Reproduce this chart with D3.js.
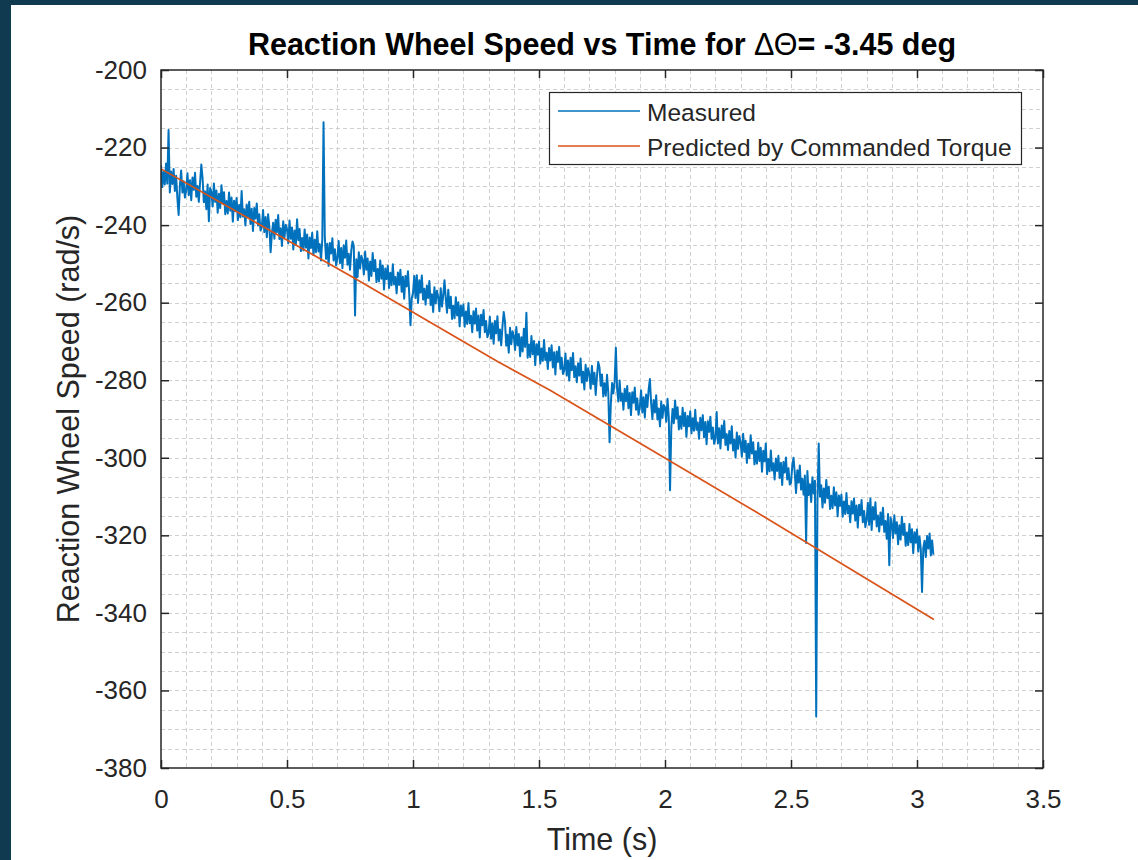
<!DOCTYPE html>
<html><head><meta charset="utf-8">
<script src="https://cdn.jsdelivr.net/npm/d3@7"></script>
<style>
body{margin:0;background:#103a50;overflow:hidden}
svg{display:block}
text{font-family:"Liberation Sans",Arial,Helvetica,sans-serif}
</style>
</head><body>
<svg id="chart" width="1138" height="860"></svg>
<script>
// ---------- data ----------
const sampleInterval = 0.005; // s between measured samples
const measuredSpeed = [
-224.5,-230.2,-226.3,-229.5,-224.1,-229.3,-215.5,-231.6,-226.2,-229.4,-225.5,-231.2,-227.3,-233.0,-237.4,-229.8,-225.9,-231.6,-228.7,-232.9,
-231.0,-226.6,-232.3,-228.4,-233.6,-227.7,-230.9,-226.5,-232.7,-229.9,-234.0,-229.1,-224.4,-227.9,-234.1,-231.3,-235.9,-229.5,-239.0,-230.4,
-231.5,-235.2,-229.3,-234.0,-231.1,-236.8,-231.9,-235.6,-229.7,-234.4,-231.5,-237.2,-233.8,-237.0,-231.6,-236.3,-232.9,-239.1,-233.7,-236.4,
-233.0,-238.7,-234.8,-238.0,-231.2,-237.8,-235.9,-240.1,-234.7,-237.9,-234.0,-239.7,-235.8,-241.5,-235.6,-238.3,-234.4,-240.1,-237.2,-241.4,
-240.5,-236.1,-241.8,-237.9,-243.1,-237.2,-240.4,-247.0,-242.2,-239.4,-243.5,-238.6,-241.8,-237.4,-243.6,-240.8,-245.4,-239.0,-243.2,-239.9,
-241.0,-244.7,-238.8,-243.5,-240.6,-246.3,-241.4,-245.1,-238.5,-243.9,-241.0,-246.7,-243.3,-246.5,-241.1,-245.8,-242.4,-248.6,-243.2,-245.9,
-242.0,-247.7,-243.8,-247.0,-241.6,-246.8,-244.9,-249.1,-243.7,-213.5,-243.0,-248.7,-244.8,-250.5,-244.6,-247.3,-243.4,-249.1,-246.2,-250.4,
-248.5,-244.1,-249.8,-245.9,-251.1,-245.2,-248.4,-244.0,-250.2,-247.4,-251.5,-246.6,-244.2,-245.4,-263.3,-248.8,-253.4,-247.0,-251.2,-247.9,
-249.0,-252.7,-246.8,-251.5,-248.6,-254.3,-249.4,-253.1,-247.2,-251.9,-249.0,-254.7,-251.3,-254.5,-249.1,-253.8,-250.4,-256.6,-251.2,-253.9,
-250.5,-256.2,-252.3,-255.5,-250.1,-255.3,-253.4,-257.6,-252.2,-255.4,-251.5,-257.2,-253.3,-259.0,-253.1,-255.8,-251.9,-257.6,-265.8,-258.9,
-257.5,-253.1,-258.8,-252.9,-260.1,-254.2,-257.4,-253.0,-259.2,-256.4,-260.5,-255.6,-258.8,-254.4,-260.6,-257.8,-262.4,-256.0,-260.2,-256.9,
-258.5,-262.2,-256.3,-261.0,-258.1,-254.2,-258.9,-262.6,-256.7,-261.4,-258.5,-264.2,-260.8,-264.0,-258.6,-263.3,-259.9,-266.1,-260.7,-263.4,
-260.5,-266.2,-262.3,-265.5,-260.1,-265.3,-263.4,-267.6,-262.2,-265.4,-261.5,-267.2,-263.3,-269.0,-263.1,-265.8,-261.9,-267.6,-264.7,-268.9,
-268.0,-263.6,-269.3,-265.4,-270.6,-264.7,-267.9,-263.5,-269.7,-266.9,-271.0,-266.1,-262.4,-264.9,-271.1,-268.3,-272.9,-266.5,-270.7,-267.4,
-268.5,-272.2,-266.3,-271.0,-268.1,-273.8,-268.9,-272.6,-266.7,-271.4,-262.6,-274.2,-270.8,-274.0,-268.6,-273.3,-269.9,-276.1,-270.7,-273.4,
-270.0,-275.7,-271.8,-275.0,-269.6,-274.8,-272.9,-277.1,-271.7,-274.9,-271.0,-276.7,-272.8,-278.5,-272.6,-275.3,-271.4,-277.1,-274.2,-278.4,
-277.5,-273.1,-278.8,-274.9,-280.1,-274.2,-277.4,-273.0,-279.2,-276.4,-280.5,-275.6,-278.8,-274.4,-280.6,-277.8,-282.4,-276.0,-280.2,-276.9,
-278.5,-282.2,-276.3,-281.0,-278.1,-283.8,-278.9,-275.3,-276.7,-281.4,-278.5,-284.2,-280.8,-284.0,-278.6,-283.3,-296.0,-286.1,-280.7,-283.4,
-280.5,-271.6,-282.3,-285.5,-280.1,-285.3,-283.4,-287.6,-282.2,-285.4,-281.5,-287.2,-283.3,-289.0,-283.1,-285.8,-281.9,-287.6,-284.7,-288.9,
-287.0,-282.6,-288.3,-284.4,-289.6,-283.7,-286.9,-282.5,-279.7,-285.9,-290.0,-285.1,-288.3,-283.9,-290.1,-287.3,-291.9,-285.5,-289.7,-286.4,
-287.0,-290.7,-284.8,-289.5,-308.4,-292.3,-287.4,-291.1,-285.2,-289.9,-287.0,-292.7,-289.3,-292.5,-287.1,-291.8,-288.4,-294.6,-289.2,-291.9,
-288.0,-293.7,-289.8,-293.0,-287.6,-292.8,-290.9,-295.1,-289.7,-292.9,-289.0,-294.7,-290.8,-296.5,-290.6,-293.3,-289.4,-295.1,-292.2,-296.4,
-295.0,-288.2,-296.3,-292.4,-297.6,-291.7,-294.9,-290.5,-296.7,-293.9,-298.0,-293.1,-296.3,-291.9,-298.1,-295.3,-299.9,-293.5,-297.7,-294.4,
-296.0,-299.7,-293.8,-298.5,-295.6,-301.3,-296.4,-300.1,-294.2,-298.9,-296.0,-301.7,-298.3,-301.5,-296.1,-300.8,-297.4,-303.6,-298.2,-300.9,
-296.3,-304.2,-300.3,-303.5,-298.1,-303.3,-301.4,-305.6,-300.2,-303.4,-299.5,-305.2,-301.3,-307.0,-301.1,-303.8,-299.9,-305.6,-302.7,-306.9,
-306.5,-302.1,-300.0,-303.9,-309.1,-303.2,-306.4,-302.0,-308.2,-305.4,-309.5,-304.6,-322.0,-303.4,-309.6,-306.8,-311.4,-305.0,-309.2,-305.9,
-366.7,-311.2,-296.3,-310.0,-307.1,-312.8,-307.9,-311.6,-305.7,-310.4,-307.5,-313.2,-309.8,-313.0,-307.6,-312.3,-308.9,-315.1,-309.7,-312.4,
-309.5,-315.2,-311.3,-314.5,-309.1,-314.3,-312.4,-316.6,-311.2,-314.4,-310.5,-316.2,-312.3,-318.0,-312.1,-314.8,-310.9,-316.6,-313.7,-317.9,
-316.0,-311.6,-317.3,-310.5,-318.6,-312.7,-315.9,-311.5,-317.7,-314.9,-319.0,-314.1,-317.3,-312.9,-319.1,-316.3,-320.9,-314.5,-327.7,-315.4,
-317.0,-320.7,-314.8,-319.5,-316.6,-322.3,-317.4,-321.1,-315.2,-319.9,-317.0,-322.7,-319.3,-322.5,-317.1,-321.8,-318.4,-324.6,-319.2,-321.9,
-318.5,-324.2,-320.3,-323.5,-334.6,-323.3,-321.4,-325.6,-320.2,-323.4,-319.5,-325.2,-321.3,-325.0
];
const predictedTime  = [0, 0.763, 1.339, 1.544, 1.894, 2.357, 3.067];
const predictedSpeed = [-225.5, -253.5, -275.3, -282.6, -296.0, -313.8, -341.7];
const xTickValues = [0, 0.5, 1, 1.5, 2, 2.5, 3, 3.5];
const yTickValues = [-380, -360, -340, -320, -300, -280, -260, -240, -220, -200];
const seriesNames = ["Measured", "Predicted by Commanded Torque"];
const seriesColors = ["#0072BD", "#D95319"];
const xLabel = "Time (s)";
const yLabel = "Reaction Wheel Speed (rad/s)";

// ---------- layout ----------
const svg = d3.select("#chart");
const L = 161, R = 1043, T = 70, B = 768;
const x = d3.scaleLinear().domain([0, 3.5]).range([L, R]);
const y = d3.scaleLinear().domain([-380, -200]).range([B, T]);
const ink = "#262626";

svg.append("rect").attr("x", 11).attr("y", 5).attr("width", 1127).attr("height", 855).attr("fill", "#ffffff");
svg.append("rect").attr("x", L).attr("y", T).attr("width", R - L).attr("height", B - T).attr("fill", "#ffffff");

// minor grid (dashed)
const grid = svg.append("g").attr("stroke", "#d0d0d0").attr("stroke-width", 1).attr("stroke-dasharray", "4,3");
d3.range(1, 35).map(i => i / 10).forEach(v => {
  grid.append("line").attr("x1", Math.round(x(v)) + 0.5).attr("x2", Math.round(x(v)) + 0.5).attr("y1", T).attr("y2", B);
});
d3.range(-375, -200, 5).forEach(v => {
  grid.append("line").attr("y1", Math.round(y(v)) + 0.5).attr("y2", Math.round(y(v)) + 0.5).attr("x1", L).attr("x2", R);
});

// data lines
svg.append("clipPath").attr("id", "clip").append("rect").attr("x", L).attr("y", T).attr("width", R - L).attr("height", B - T);
const plot = svg.append("g").attr("clip-path", "url(#clip)");
const lineM = d3.line().x((d, i) => x(i * sampleInterval)).y(d => y(d));
plot.append("path").datum(measuredSpeed).attr("d", lineM).attr("fill", "none")
  .attr("stroke", seriesColors[0]).attr("stroke-width", 2.0).attr("stroke-linejoin", "round");
const lineP = d3.line().x((d, i) => x(predictedTime[i])).y(d => y(d));
plot.append("path").datum(predictedSpeed).attr("d", lineP).attr("fill", "none")
  .attr("stroke", seriesColors[1]).attr("stroke-width", 1.7);

// axes
const fmt = d => String(d);
function styleAxis(g) {
  g.select(".domain").remove();
  g.selectAll(".tick line").attr("stroke", ink).attr("stroke-width", 1.5);
  g.selectAll(".tick text").attr("fill", ink).style("font-size", "26px")
   .style("font-family", '"Liberation Sans",Arial,Helvetica,sans-serif');
}
svg.append("g").attr("transform", `translate(0,${B})`)
  .call(d3.axisBottom(x).tickValues(xTickValues).tickFormat(fmt).tickSizeInner(-8).tickSizeOuter(0).tickPadding(22))
  .call(styleAxis);
svg.append("g").attr("transform", `translate(0,${T})`)
  .call(d3.axisTop(x).tickValues(xTickValues).tickFormat("").tickSizeInner(-8).tickSizeOuter(0))
  .call(styleAxis);
svg.append("g").attr("transform", `translate(${L},0)`)
  .call(d3.axisLeft(y).tickValues(yTickValues).tickFormat(fmt).tickSizeInner(-8).tickSizeOuter(0).tickPadding(14))
  .call(styleAxis);
svg.append("g").attr("transform", `translate(${R},0)`)
  .call(d3.axisRight(y).tickValues(yTickValues).tickFormat("").tickSizeInner(-8).tickSizeOuter(0))
  .call(styleAxis);

// box
svg.append("rect").attr("x", L).attr("y", T).attr("width", R - L).attr("height", B - T)
  .attr("fill", "none").attr("stroke", ink).attr("stroke-width", 1.5);

// title
const title = svg.append("text").attr("x", (L + R) / 2).attr("y", 55).attr("text-anchor", "middle")
  .attr("fill", "#000").style("font-size", "30.5px").style("font-weight", "bold");
title.append("tspan").text("Reaction Wheel Speed vs Time for ");
title.append("tspan").style("font-weight", "normal").text("\u0394\u0398");
title.append("tspan").text("= -3.45 deg");

// axis labels
svg.append("text").attr("x", (L + R) / 2).attr("y", 850).attr("text-anchor", "middle")
  .attr("fill", ink).style("font-size", "30.5px").text(xLabel);
svg.append("text").attr("transform", `translate(79,${(T + B) / 2}) rotate(-90)`).attr("text-anchor", "middle")
  .attr("fill", ink).style("font-size", "30.5px").text(yLabel);

// legend
const lg = svg.append("g");
lg.append("rect").attr("x", 549.5).attr("y", 92.5).attr("width", 472).attr("height", 72)
  .attr("fill", "#fff").attr("stroke", ink).attr("stroke-width", 1.2);
const rowY = [111, 146];
seriesNames.forEach((n, i) => {
  lg.append("line").attr("x1", 558).attr("x2", 640).attr("y1", rowY[i]).attr("y2", rowY[i])
    .attr("stroke", seriesColors[i]).attr("stroke-width", 1.6);
  lg.append("text").attr("x", 647).attr("y", rowY[i] + 9.5).attr("fill", ink)
    .style("font-size", "24.5px").text(n);
});
</script>
</body></html>
